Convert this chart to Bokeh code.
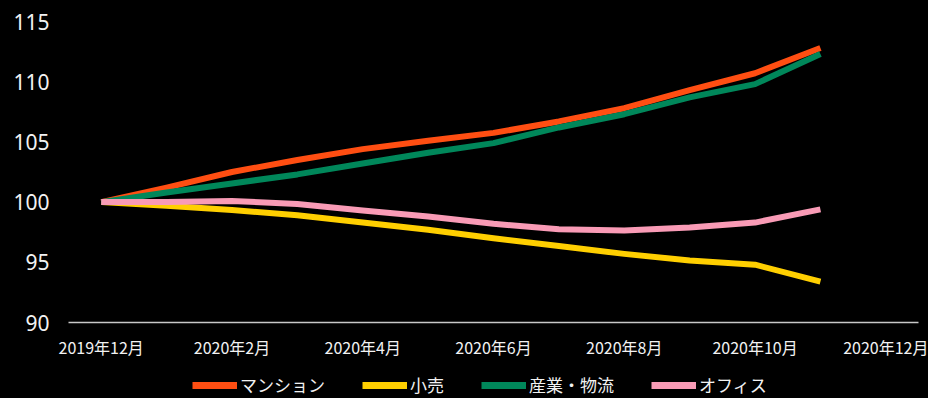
from bokeh.plotting import figure
from bokeh.models import Range1d, FixedTicker, Legend, LegendItem
from bokeh.layouts import column
from bokeh.embed import file_html
from bokeh.resources import INLINE

months = ["2019年12月", "2020年1月", "2020年2月", "2020年3月", "2020年4月", "2020年5月",
          "2020年6月", "2020年7月", "2020年8月", "2020年9月", "2020年10月", "2020年11月"]
tick_labels = ["2019年12月", "2020年2月", "2020年4月", "2020年6月", "2020年8月", "2020年10月", "2020年12月"]
tick_pos = [0, 2, 4, 6, 8, 10, 12]

mansion = [100.0, 101.2, 102.5, 103.5, 104.4, 105.1, 105.75, 106.7, 107.8, 109.3, 110.7, 112.8]
retail = [100.0, 99.7, 99.35, 98.9, 98.3, 97.7, 97.0, 96.35, 95.7, 95.15, 94.8, 93.4]
logistics = [100.0, 100.8, 101.55, 102.3, 103.2, 104.1, 104.9, 106.2, 107.3, 108.7, 109.8, 112.3]
office = [100.0, 100.0, 100.1, 99.85, 99.3, 98.8, 98.2, 97.75, 97.65, 97.9, 98.3, 99.4]

series_names = ["マンション", "小売", "産業・物流", "オフィス"]
series_values = [mansion, retail, logistics, office]
colors = ["#FF4E12", "#FFCF00", "#00875A", "#F99BB6"]

x = list(range(len(months)))
font = "Noto Sans CJK JP"

p = figure(width=928, height=366, output_backend="svg", toolbar_location=None,
           x_range=Range1d(-0.5, 12.5), y_range=Range1d(90, 115),
           background_fill_color="black", border_fill_color="black",
           min_border_left=68, min_border_right=10, min_border_top=21, min_border_bottom=44)
p.outline_line_color = None
p.grid.visible = False
p.styles = {"background-color": "#000000"}

p.yaxis.ticker = FixedTicker(ticks=[90, 95, 100, 105, 110, 115])
p.yaxis.axis_line_color = None
p.yaxis.major_tick_line_color = None
p.yaxis.minor_tick_line_color = None
p.yaxis.major_tick_out = 0
p.yaxis.major_label_standoff = 19
p.yaxis.major_label_text_color = "#F2F2F2"
p.yaxis.major_label_text_font = "Noto Sans"
p.yaxis.major_label_text_font_size = "21px"

p.xaxis.ticker = FixedTicker(ticks=tick_pos)
p.xaxis.major_label_overrides = {t: l for t, l in zip(tick_pos, tick_labels)}
p.xaxis.axis_line_color = "#C8C8C8"
p.xaxis.axis_line_width = 1.5
p.xaxis.major_tick_line_color = None
p.xaxis.minor_tick_line_color = None
p.xaxis.major_tick_out = 0
p.xaxis.major_label_standoff = 12
p.xaxis.major_label_text_color = "#F2F2F2"
p.xaxis.major_label_text_font = font
p.xaxis.major_label_text_font_size = "16px"

for vals, c in zip(series_values, colors):
    p.line(x, vals, line_color=c, line_width=6, line_join="round")

# legend strip
lp = figure(width=928, height=32, output_backend="svg", toolbar_location=None,
            x_range=Range1d(0, 1), y_range=Range1d(0, 1),
            background_fill_color="black", border_fill_color="black",
            min_border=0, x_axis_type=None, y_axis_type=None)
lp.outline_line_color = None
lp.grid.visible = False
lp.styles = {"background-color": "#000000"}
items = []
for name, vals, c in zip(series_names, series_values, colors):
    r = lp.line(x, vals, line_color=c, line_width=7)
    items.append(LegendItem(label=name, renderers=[r]))

legend = Legend(items=items, orientation="horizontal", location=(124, 1),
                background_fill_alpha=0, border_line_alpha=0,
                label_text_color="#F2F2F2", label_text_font=font,
                label_text_font_size="17px", glyph_width=45, glyph_height=20,
                label_height=20, label_standoff=3, spacing=37, padding=0, margin=0)
lp.add_layout(legend, "center")

layout = column(p, lp, spacing=0)
layout.styles = {"background-color": "#000000"}
html = file_html(layout, INLINE)
html = html.replace("</head>", "<style>html, body { background: #000000 !important; margin: 0; }</style></head>", 1)
open("out.html", "w").write(html)
